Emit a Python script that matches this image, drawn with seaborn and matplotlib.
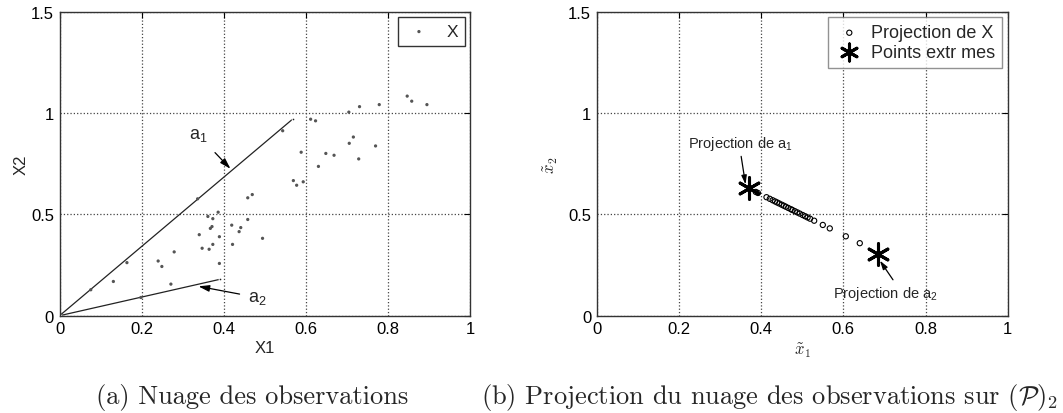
import matplotlib
matplotlib.use("Agg")
import matplotlib.pyplot as plt
import seaborn as sns
import pandas as pd
from matplotlib.ticker import FormatStrFormatter

# ---- data ----
obs_x1 = [0.076, 0.164, 0.336, 0.543, 0.198, 0.131, 0.240, 0.249, 0.279, 0.271,
          0.340, 0.347, 0.364, 0.373, 0.367, 0.371, 0.361, 0.373, 0.386, 0.389,
          0.389, 0.419, 0.421, 0.437, 0.441, 0.458, 0.494, 0.458, 0.469, 0.569,
          0.577, 0.593, 0.588, 0.611, 0.623, 0.630, 0.648, 0.668, 0.704, 0.730,
          0.778, 0.705, 0.715, 0.728, 0.769, 0.846, 0.857, 0.894]
obs_x2 = [0.128, 0.262, 0.577, 0.913, 0.090, 0.169, 0.270, 0.243, 0.315, 0.156,
          0.400, 0.333, 0.328, 0.352, 0.431, 0.440, 0.490, 0.479, 0.511, 0.390,
          0.258, 0.447, 0.352, 0.415, 0.435, 0.475, 0.382, 0.582, 0.598, 0.667,
          0.644, 0.661, 0.807, 0.970, 0.962, 0.737, 0.801, 0.792, 1.005, 1.032,
          1.042, 0.851, 0.882, 0.774, 0.838, 1.084, 1.059, 1.042]

a1 = [0.567, 0.970]
a2 = [0.391, 0.180]

proj_x1 = [0.387, 0.392, 0.413, 0.421, 0.428, 0.434, 0.439, 0.444, 0.450, 0.455,
           0.460, 0.466, 0.472, 0.476, 0.482, 0.488, 0.494, 0.501, 0.507, 0.513,
           0.519, 0.529, 0.550, 0.567, 0.606, 0.640]
proj_x2 = [0.611, 0.606, 0.585, 0.577, 0.570, 0.564, 0.559, 0.554, 0.548, 0.543,
           0.538, 0.532, 0.526, 0.522, 0.516, 0.510, 0.504, 0.497, 0.491, 0.485,
           0.479, 0.469, 0.448, 0.431, 0.392, 0.358]

ext_x1 = [0.370, 0.685]
ext_x2 = [0.628, 0.307]

x_ticks = [0, 0.2, 0.4, 0.6, 0.8, 1]
y_ticks = [0, 0.5, 1, 1.5]

# ---- style ----
sns.set_theme(style="white")
plt.rcParams['font.family'] = ['Liberation Sans', 'DejaVu Sans']
plt.rcParams['mathtext.fontset'] = 'custom'
plt.rcParams['mathtext.rm'] = 'Liberation Sans'
plt.rcParams['mathtext.it'] = 'Liberation Sans:italic'
plt.rcParams['mathtext.bf'] = 'Liberation Sans:bold'

fig = plt.figure(figsize=(10.63, 4.14), dpi=100)
axL = fig.add_axes([0.056, 0.235, 0.3866, 0.734])
axR = fig.add_axes([0.5614, 0.235, 0.3866, 0.734])

def style_axes(ax):
    ax.set_xlim(0, 1)
    ax.set_ylim(0, 1.5)
    ax.set_xticks(x_ticks)
    ax.set_yticks(y_ticks)
    ax.xaxis.set_major_formatter(FormatStrFormatter('%g'))
    ax.yaxis.set_major_formatter(FormatStrFormatter('%g'))
    ax.grid(True, linestyle=':', color='#444444', linewidth=0.9)
    ax.tick_params(direction='in', length=4, width=0.8, top=True, right=True,
                   labelsize=12, colors='black', pad=4)
    for s in ax.spines.values():
        s.set_color('#333333')
        s.set_linewidth(1.0)
    ax.set_facecolor('white')

arrow = dict(arrowstyle='-|>,head_length=0.5,head_width=0.15',
             color='black', lw=0.9, shrinkB=0)

# ---- left panel ----
style_axes(axL)
df_obs = pd.DataFrame({'X1': obs_x1, 'X2': obs_x2})
sns.scatterplot(data=df_obs, x='X1', y='X2', ax=axL, marker='.', s=22,
                color='#555555', edgecolor='none', label='X', zorder=3)
for a in (a1, a2):
    seg = pd.DataFrame({'x': [0, a[0]], 'y': [0, a[1]]})
    sns.lineplot(data=seg, x='x', y='y', ax=axL, color='#222222', linewidth=0.9,
                 sort=False, marker='.', markersize=4, estimator=None, legend=False)
axL.set_xlabel('X1', fontsize=12, labelpad=3)
axL.set_ylabel('X2', fontsize=12, labelpad=2)
axL.annotate('a$_1$', xy=(0.416, 0.725), xytext=(0.337, 0.893),
             fontsize=13, ha='center', va='center',
             arrowprops=dict(arrow, shrinkA=6))
axL.annotate('a$_2$', xy=(0.338, 0.145), xytext=(0.482, 0.090),
             fontsize=13, ha='center', va='center',
             arrowprops=dict(arrow, shrinkA=4))
legL = axL.legend(loc='upper right', fontsize=12.5, frameon=True, fancybox=False,
                  edgecolor='black', borderaxespad=0.3, handletextpad=0.8,
                  markerscale=1.0, handlelength=1.6)
legL.get_frame().set_linewidth(1.0)

# ---- right panel ----
style_axes(axR)
df_proj = pd.DataFrame({'x': proj_x1, 'y': proj_x2})
sns.scatterplot(data=df_proj, x='x', y='y', ax=axR, marker='o', s=14,
                facecolor='none', edgecolor='black', linewidth=0.8,
                label='Projection de X', zorder=3)
df_ext = pd.DataFrame({'x': ext_x1, 'y': ext_x2})
sns.scatterplot(data=df_ext, x='x', y='y', ax=axR, marker=(6, 2, 0), s=240,
                color='black', linewidth=2.2, label='Points extr mes', zorder=4)
axR.set_xlabel(r'$\tilde{x}_1$', fontsize=12, labelpad=3, math_fontfamily='cm')
axR.set_ylabel(r'$\tilde{x}_2$', fontsize=12, labelpad=6, math_fontfamily='cm')
axR.annotate('Projection de a$_1$', xy=(0.362, 0.648), xytext=(0.222, 0.854),
             fontsize=10.5, ha='left', va='center',
             arrowprops=dict(arrow, shrinkA=1, relpos=(0.5, 0.0)))
axR.annotate('Projection de a$_2$', xy=(0.689, 0.272), xytext=(0.575, 0.111),
             fontsize=10.5, ha='left', va='center',
             arrowprops=dict(arrow, shrinkA=1, relpos=(0.6, 1.0)))
legR = axR.legend(loc='upper right', fontsize=13, frameon=True, fancybox=False,
                  edgecolor='#777777', borderaxespad=0.3, handletextpad=0.4,
                  handlelength=1.6, labelspacing=0.15)
legR.get_frame().set_linewidth(1.0)
legR.legend_handles[0].set_sizes([14])
legR.legend_handles[1].set_sizes([150])

# ---- captions ----
fig.text(252.5 / 1063, 0.04, '(a) Nuage des observations', family='cmr10',
         fontsize=19, ha='center', va='center')
fig.text(1058 / 1063, 0.04, r'(b) Projection du nuage des observations sur $(\mathcal{P})_2$',
         family='cmr10', fontsize=19, ha='right', va='center', math_fontfamily='cm')

fig.savefig('out.png', dpi=100, facecolor='white')
